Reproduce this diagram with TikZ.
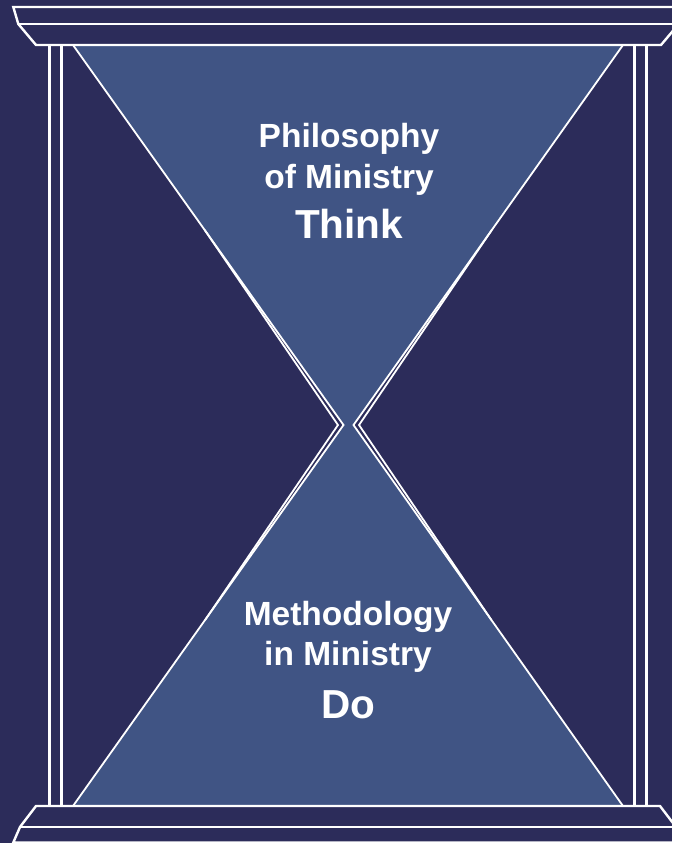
\documentclass[tikz,border=0pt]{standalone}
\usepackage{fontspec}
\setmainfont{Liberation Sans}
\definecolor{bgnavy}{HTML}{2C2C5A}
\definecolor{glassblue}{HTML}{405484}
\begin{document}
\begin{tikzpicture}[x=1pt,y=-1pt,
  wl/.style={draw=white,line width=2.4pt},
  el/.style={draw=white,line width=1.8pt,line join=miter},
  small/.style={text=white,font=\bfseries\fontsize{33.5}{40}\selectfont,anchor=base,inner sep=0pt},
  big/.style={text=white,font=\bfseries\fontsize{40.5}{48}\selectfont,anchor=base,inner sep=0pt}]
\useasboundingbox (0,0) rectangle (672,843);
\fill[bgnavy] (0,0) rectangle (672,843);
\begin{scope}
\clip (0,0) rectangle (672,843);
% hourglass glass
\path[fill=glassblue, el] (73,45) -- (623,45) -- (353.5,425) -- (623,806) -- (73,806) -- (343.5,425) -- cycle;
\draw[el] (204.7,230) -- (338,425) -- (205.1,620);
\draw[el] (491.8,230) -- (359,425) -- (491.4,620);
% columns
\foreach \x in {49.5,61.5,634.5,646.5} \draw[wl] (\x,45) -- (\x,806);
% top entablature
\draw[wl,line join=miter] (36,45) -- (18.3,24) -- (13.3,7) -- (683.7,7) -- (678.7,24) -- (661,45) -- cycle;
\draw[wl] (18.3,24) -- (678.7,24);
% bottom base
\draw[wl,line join=miter] (36,806) -- (20,827) -- (13.3,842.5) -- (683.7,842.5) -- (676,827) -- (660,806) -- cycle;
\draw[wl] (20,827) -- (676,827);
\end{scope}
% texts
\node[small] (t1) at (349,147) {Philosophy};
\node[small] (t2) at (349,188) {of Ministry};
\node[big]   (t3) at (349,238) {Think};
\node[small] (b1) at (348,625) {Methodology};
\node[small] (b2) at (348,665) {in Ministry};
\node[big]   (b3) at (348,718) {Do};
\end{tikzpicture}
\end{document}
